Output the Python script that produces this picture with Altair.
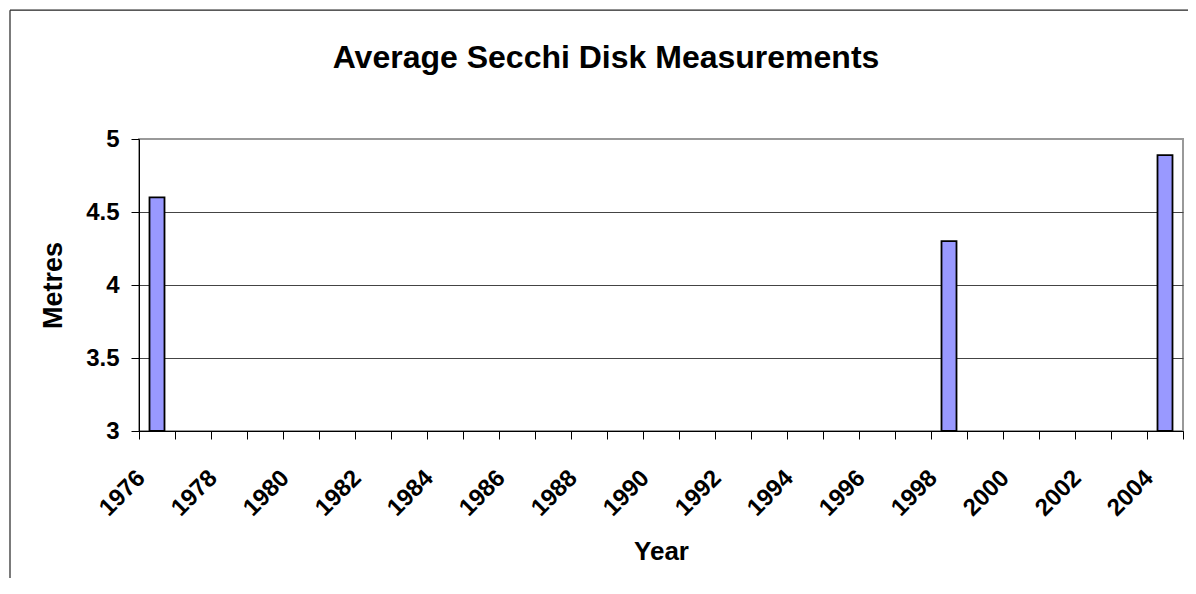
import altair as alt
import pandas as pd

# Category axis (every year shown as a category)
years = [1976, 1977, 1978, 1979, 1980, 1981, 1982, 1983, 1984, 1985,
         1986, 1987, 1988, 1989, 1990, 1991, 1992, 1993, 1994, 1995,
         1996, 1997, 1998, 1999, 2000, 2001, 2002, 2003, 2004]

# Measured values
measured_years = [1976, 1998, 2004]
secchi_depth = [4.6, 4.3, 4.89]

y_ticks = [3, 3.5, 4, 4.5, 5]

FONT = "Liberation Sans"

df = pd.DataFrame({"Year": measured_years, "Metres": secchi_depth})

bars = alt.Chart(df).mark_bar(
    size=15, fill="#9999FF", stroke="black", strokeWidth=1.8
).encode(
    x=alt.X(
        "Year:O",
        scale=alt.Scale(domain=years, paddingInner=0, paddingOuter=0),
        axis=alt.Axis(
            tickBand="extent",
            labelExpr="datum.value % 2 == 0 ? datum.label : ''",
            labelAngle=-45,
            labelAlign="right",
            labelBaseline="middle",
            labelOffset=-16,
            labelPadding=35,
            labelOverlap=False,
            labelFont=FONT,
            labelFontSize=24,
            labelFontWeight="bold",
            labelColor="black",
            tickSize=8,
            tickColor="black",
            domainColor="black",
            grid=False,
            title="Year",
            titleFont=FONT,
            titleFontSize=26,
            titleFontWeight="bold",
            titleColor="black",
            titleX=522,
            titleY=120,
            titleBaseline="middle",
            titleAlign="center",
        ),
    ),
    y=alt.Y(
        "Metres:Q",
        scale=alt.Scale(domain=[3, 5], zero=False, nice=False),
        axis=alt.Axis(
            values=y_ticks,
            format="~g",
            labelFont=FONT,
            labelFontSize=24,
            labelFontWeight="bold",
            labelColor="black",
            labelPadding=12,
            tickSize=8,
            tickColor="black",
            domainColor="black",
            grid=True,
            gridColor={"condition": {"test": "datum.value === 5", "value": "#999999"}, "value": "#444444"},
            title="Metres",
            titleFont=FONT,
            titleFontSize=27,
            titleFontWeight="bold",
            titleColor="black",
            titleAngle=-90,
            titleX=-86,
            titleY=146,
            titleBaseline="middle",
            titleAlign="center",
        ),
    ),
    y2=alt.datum(3),
)

frame_df = pd.DataFrame({"k": [0]})
frame_top = alt.Chart(frame_df).mark_rule(color="#222222", strokeWidth=1.2).encode(
    x=alt.value(-129), x2=alt.value(1060), y=alt.value(-128.8)
)
frame_left = alt.Chart(frame_df).mark_rule(color="#222222", strokeWidth=1.2).encode(
    x=alt.value(-129), y=alt.value(-128.8), y2=alt.value(460)
)

chart = alt.layer(bars, frame_top, frame_left).properties(
    width=1044,
    height=292,
    padding={"left": 131, "top": 131, "right": 5, "bottom": 147},
    autosize=alt.AutoSizeParams(type="none"),
    title=alt.TitleParams(
        "Average Secchi Disk Measurements",
        font=FONT,
        fontSize=32,
        fontWeight="bold",
        color="black",
        anchor="middle",
        dx=-55,
        offset=-65,
    ),
).configure_view(stroke="#999999", strokeWidth=2)

chart.save("out.html", embed_options={"renderer": "svg", "actions": False})
